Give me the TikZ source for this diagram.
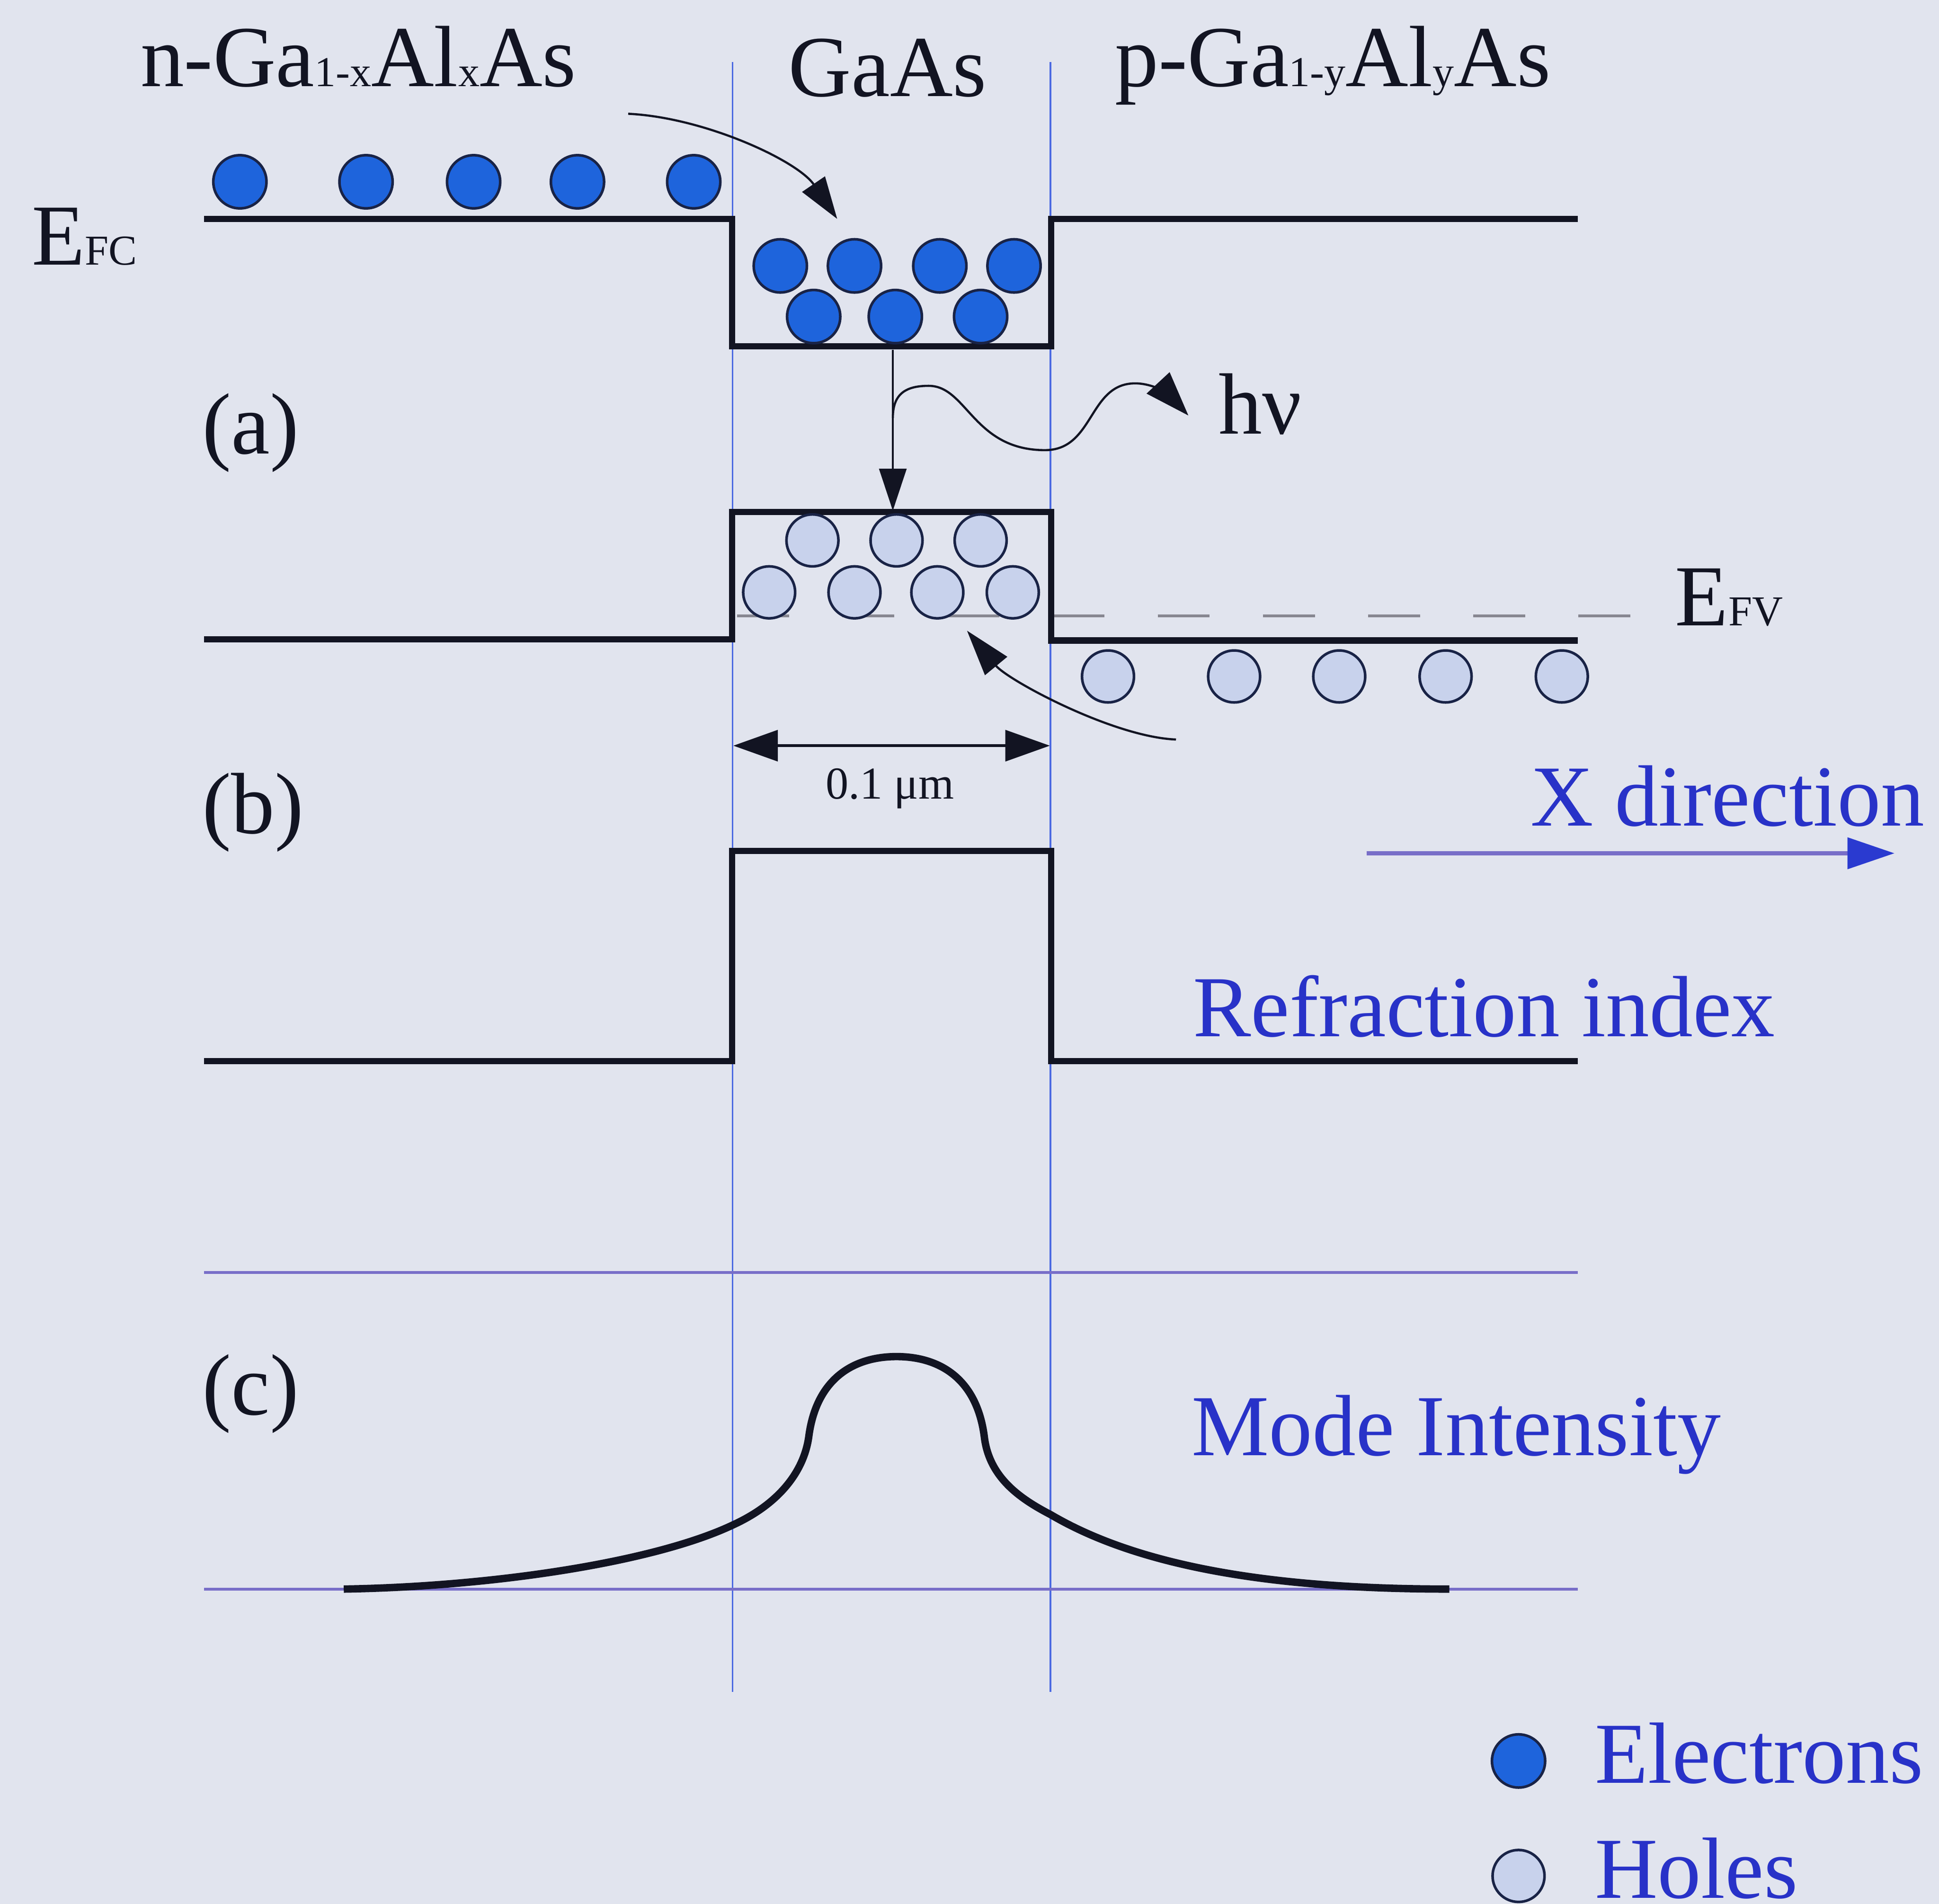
\documentclass[tikz,border=0pt]{standalone}
\usepackage{fontspec}
\setmainfont{Liberation Serif}
\usetikzlibrary{arrows.meta}
\definecolor{bgc}{RGB}{225,228,238}
\definecolor{ink}{RGB}{18,20,34}
\definecolor{txtblue}{RGB}{40,50,200}
\definecolor{vline}{RGB}{75,105,225}
\definecolor{hline}{RGB}{120,110,200}
\definecolor{arrowblue}{RGB}{42,58,208}
\definecolor{elecfill}{RGB}{30,100,220}
\definecolor{holefill}{RGB}{200,210,236}
\definecolor{ringc}{RGB}{25,35,70}
\definecolor{dashc}{RGB}{135,135,145}
\newcommand{\lowsub}[1]{{\fontsize{9.8}{12}\selectfont #1}}
\tikzset{
  band/.style={line width=1.45pt, draw=ink, line join=miter},
  guide/.style={line width=0.35pt, draw=vline},
  axisline/.style={line width=0.6pt, draw=hline},
  elec/.style={circle, fill=elecfill, draw=ringc, line width=0.6pt, minimum size=0.43cm, inner sep=0pt},
  hole/.style={circle, fill=holefill, draw=ringc, line width=0.6pt, minimum size=0.42cm, inner sep=0pt},
  bigtxt/.style={font=\fontsize{20}{24}\selectfont, text=ink, inner sep=0pt, anchor=base west},
  bluetxt/.style={font=\fontsize{20}{24}\selectfont, text=txtblue, inner sep=0pt, anchor=base west},
  thinarrow/.style={draw=ink, line width=0.5pt, -{Triangle[length=0.34cm,width=0.22cm]}},
}
\begin{document}
\begin{tikzpicture}[x=0.01cm,y=-0.01cm]
\fill[bgc] (0,0) rectangle (1568,1539.6);
\useasboundingbox (0,0) rectangle (1568,1539.6);
% guide lines
\draw[guide] (592.5,50) -- (592.5,1368);
\draw[guide] (849.5,50) -- (849.5,1368);
\draw[axisline] (165,1029) -- (1276,1029);
\draw[axisline] (165,1285) -- (1276,1285);
% quasi Fermi level (valence)
\draw[dashc, line width=0.6pt, dash pattern=on 0.42cm off 0.43cm] (596,498) -- (1322,498);
% bands
\draw[band] (165,177) -- (592,177) -- (592,280) -- (850,280) -- (850,177) -- (1276,177);
\draw[band] (165,517) -- (592,517) -- (592,414) -- (850,414) -- (850,518) -- (1276,518);
\draw[band] (165,858) -- (592,858) -- (592,688) -- (850,688) -- (850,858) -- (1276,858);
% mode intensity
\draw[line width=1.7pt, ink] (278,1285) .. controls (400,1283) and (530,1263) .. (593,1233)
  .. controls (630,1216) and (650,1190) .. (654,1162)
  .. controls (660,1115) and (690,1097) .. (725,1097)
  .. controls (760,1097) and (790,1115) .. (796,1162)
  .. controls (800,1195) and (825,1212) .. (850,1225)
  .. controls (930,1272) and (1050,1285) .. (1172,1285);
% electrons
\foreach \x [count=\i] in {194,296,383,467,561} \node[elec] (eo\i) at (\x,147) {};
\foreach \x [count=\i] in {631,691,760,820} \node[elec] (ew\i) at (\x,215) {};
\foreach \x [count=\i] in {658,724,793} \node[elec] (eb\i) at (\x,256) {};
% holes
\foreach \x [count=\i] in {657,725,793} \node[hole] (ht\i) at (\x,437) {};
\foreach \x [count=\i] in {622,691,758,819} \node[hole] (hb\i) at (\x,479) {};
\foreach \x [count=\i] in {896,998,1083,1169,1263} \node[hole] (ho\i) at (\x,547) {};
% arrows
\coordinate (a1s) at (508,92); \coordinate (a1e) at (677,177);
\draw[thinarrow] (a1s) .. controls (570,95) and (645,130) .. (a1e);
\coordinate (vs) at (722,283); \coordinate (ve) at (722,413);
\draw[thinarrow] (vs) -- (ve);
\coordinate (ws) at (722,338); \coordinate (we) at (961,336);
\draw[draw=ink, line width=0.5pt, -{Triangle[length=0.36cm,width=0.25cm]}] (ws) .. controls (722,318) and (733,312) .. (751,312)
  .. controls (782,312) and (787,364) .. (845,364)
  .. controls (885,364) and (880,310) .. (918,310)
  .. controls (935,310) and (948,322) .. (we);
\coordinate (hs) at (951,598); \coordinate (he) at (782,510);
\draw[draw=ink, line width=0.5pt, -{Triangle[length=0.37cm,width=0.23cm]}] (hs) .. controls (900,596) and (815,550) .. (he);
\coordinate (dl) at (593,603); \coordinate (dr) at (849,603);
\draw[ink, line width=0.7pt, {Triangle[length=0.36cm,width=0.25cm]}-{Triangle[length=0.36cm,width=0.25cm]}] (dl) -- (dr);
\coordinate (xs) at (1105,690); \coordinate (xe) at (1532,690);
\draw[hline, line width=0.9pt, -{Triangle[length=0.38cm,width=0.25cm,color=arrowblue]}] (xs) -- (xe);
% texts
\node[bigtxt] (lblN) at (113,70) {n-Ga\lowsub{1-x}Al\lowsub{x}As};
\node[bigtxt] (lblG) at (637,78) {GaAs};
\node[bigtxt] (lblP) at (901,70) {p-Ga\lowsub{1-y}Al\lowsub{y}As};
\node[bigtxt] (efc) at (25,214) {E\lowsub{FC}};
\node[bigtxt] (efv) at (1354,506) {E\lowsub{FV}};
\node[bigtxt] (la) at (163,367) {(a)};
\node[bigtxt] (lb) at (163,674) {(b)};
\node[bigtxt] (lc) at (163,1144) {(c)};
\node[bigtxt] (hnu) at (985,351) {hν};
\node[font=\fontsize{10.5}{12}\selectfont, text=ink, inner sep=0pt, anchor=base west] (dim) at (667,646) {0.1 μm};
\node[bluetxt] (xdir) at (1237,668) {X direction};
\node[bluetxt] (refr) at (964,838) {Refraction index};
\node[bluetxt] (mode) at (963,1177) {Mode Intensity};
\node[elec] (leg1) at (1228,1424) {};
\node[bluetxt] (legE) at (1289,1442) {Electrons};
\node[hole] (leg2) at (1228,1517) {};
\node[bluetxt] (legH) at (1289,1535) {Holes};
\end{tikzpicture}
\end{document}
